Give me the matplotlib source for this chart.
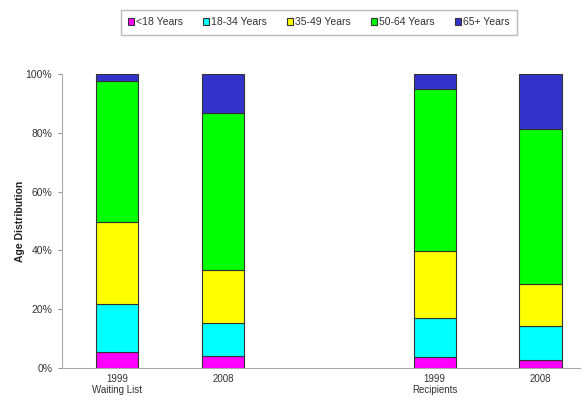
import matplotlib
matplotlib.use("Agg")
import matplotlib.pyplot as plt
import numpy as np

plt.rcParams['font.family'] = ['Liberation Sans', 'DejaVu Sans']

categories = ["1999\nWaiting List", "2008", "1999\nRecipients", "2008"]
positions = [0, 1, 3, 4]
series_names = ["<18 Years", "18-34 Years", "35-49 Years", "50-64 Years", "65+ Years"]
under18 = [5.3, 4.0, 3.7, 2.8]
age18_34 = [16.6, 11.4, 13.2, 11.5]
age35_49 = [27.7, 17.9, 22.9, 14.2]
age50_64 = [48.0, 53.3, 55.2, 52.7]
age65plus = [2.4, 13.4, 5.0, 18.8]
colors = ["#FF00FF", "#00FFFF", "#FFFF00", "#00FF00", "#3333CC"]

series = [under18, age18_34, age35_49, age50_64, age65plus]

fig = plt.figure(figsize=(5.85, 4.0), dpi=100)
ax = fig.add_axes([0.106, 0.08, 0.885, 0.735])

bottom = np.zeros(len(positions))
handles = []
for vals, col, name in zip(series, colors, series_names):
    v = np.array(vals) / 100.0
    b = ax.bar(positions, v, width=0.4, bottom=bottom, color=col,
               edgecolor="#333333", linewidth=0.8, label=name, zorder=3)
    handles.append(b)
    bottom += v

ax.set_xlim(-0.52, 4.37)
ax.set_ylim(0, 1.0)
ax.set_xticks(positions)
ax.set_xticklabels(categories, fontsize=7, color="#333333")
ax.tick_params(axis='x', length=0, pad=4)
ax.set_yticks(np.arange(0, 1.01, 0.2))
ax.set_yticklabels([f"{int(round(t*100))}%" for t in np.arange(0, 1.01, 0.2)],
                   fontsize=7.5, color="#333333")
ax.tick_params(axis='y', length=3, color="#999999", width=0.8, pad=4)
for s in ['top', 'right']:
    ax.spines[s].set_visible(False)
for s in ['left', 'bottom']:
    ax.spines[s].set_color("#AAAAAA")
    ax.spines[s].set_linewidth(0.8)
ax.set_ylabel("Age Distribution", fontsize=7.5, fontweight='bold', color="#222222")
ax.yaxis.set_label_coords(-0.072, 0.5)

leg = fig.legend(handles=handles, labels=series_names, loc='center',
                 bbox_to_anchor=(0.545, 0.944), ncol=5, fontsize=7.5,
                 handlelength=0.6, handleheight=0.6, handletextpad=0.2,
                 columnspacing=1.9, frameon=True, fancybox=False,
                 borderpad=0.7)
leg.get_frame().set_edgecolor("#AAAAAA")
leg.get_frame().set_linewidth(1.0)
for t in leg.get_texts():
    t.set_color("#333333")

fig.savefig("out.png", dpi=100)
